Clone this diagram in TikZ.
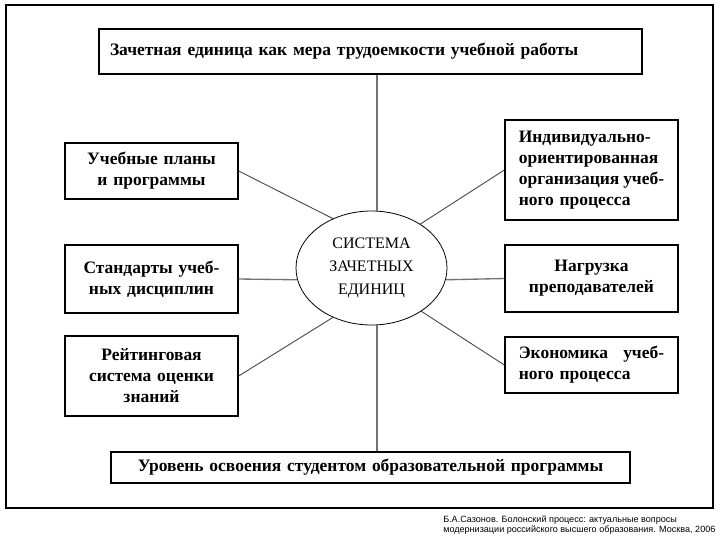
\documentclass[tikz,border=0pt]{standalone}
\usepackage{fontspec}
\setmainfont{Liberation Serif}
\newfontfamily\footfont{Liberation Sans}
\usetikzlibrary{shapes.geometric}
\newcommand{\jline}[2]{\leavevmode\hbox to \linewidth{#1\hfill #2}}
\begin{document}
\begin{tikzpicture}[x=0.75pt,y=-0.75pt,
  box/.style={draw,line width=1pt,font=\fontsize{13.1}{15.75}\selectfont\bfseries,
    inner sep=0pt,minimum width=129.75pt},
  cbox/.style={box,align=center,text width=124pt},
  lbox/.style={box,align=left,text width=109pt},
  hub/.style={draw,ellipse,line width=0.6pt,inner sep=0pt,minimum width=113.25pt,minimum height=85.5pt,
    font=\fontsize{12}{17.25}\selectfont,align=center},
  link/.style={draw=black!70,line width=0.7pt},
  axis/.style={draw=black!55,line width=1.3pt},
  frame/.style={draw,line width=1.1pt}]
\useasboundingbox (0,0) rectangle (720,540);
\draw[frame] (6,5) rectangle (713,508);

\node[box,align=left,minimum width=407.25pt,minimum height=33.75pt,text width=390.75pt,line width=1.2pt]
  (top) at (370.5,51.5) {\raisebox{2pt}{Зачетная единица как мера трудоемкости учебной работы}};
\node[box,align=center,minimum width=389.25pt,minimum height=23.25pt,text width=380pt]
  (bot) at (370.5,467.5) {Уровень освоения студентом образовательной программы};

\node[hub] (sys) at (371.5,268) {СИСТЕМА\\ЗАЧЕТНЫХ\\ЕДИНИЦ};

\node[cbox,minimum height=42pt] (l1) at (151.5,171) {Учебные планы\\и программы};
\node[cbox,minimum height=51pt] (l2) at (151.5,279) {Стандарты учеб-\\ных дисциплин};
\node[cbox,minimum height=60pt] (l3) at (151.5,376) {Рейтинговая\\система оценки\\знаний};

\node[lbox,minimum height=75pt] (r1) at (591.5,170)
  {Индивидуально-\\ориентированная\\\jline{организация}{учеб-}\\ного процесса};
\node[cbox,minimum height=50.25pt] (r2) at (591.5,278.5) {Нагрузка\\преподавателей};
\node[lbox,minimum height=42pt] (r3) at (591.5,365) {\jline{Экономика}{учеб-}\\ного процесса};

\coordinate (vx) at (377,0);
\draw[axis] (top.south -| vx) -- (sys.north -| vx);
\draw[axis] (sys.south -| vx) -- (bot.north -| vx);

\draw[link] (l1.east) -- (sys.128);
\draw[axis,line width=1pt] (l2.east) -- (sys.189);
\draw[link] (l3.east) -- (sys.232);
\draw[link] (r1.west) -- (sys.42);
\draw[axis,line width=1pt] (r2.west) -- (sys.351);
\draw[link] (r3.west) -- (sys.319);

\node[font=\footfont\fontsize{6.8}{8.2}\selectfont,align=left,anchor=north west,inner sep=0pt]
  (note) at (443,515) {Б.А.Сазонов. Болонский процесс: актуальные вопросы\\модернизации российского высшего образования. Москва, 2006};
\end{tikzpicture}
\end{document}
